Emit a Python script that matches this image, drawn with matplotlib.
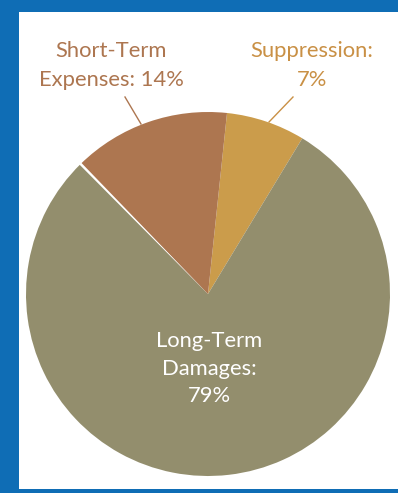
import matplotlib.pyplot as plt
import matplotlib.patches as mpatches
import numpy as np

# values
labels = ["Suppression:\n7%", "Long-Term\nDamages:\n79%", "Short-Term\nExpenses: 14%"]
shares = [7, 79, 14]
colors = ["#cb9c4b", "#938e6d", "#ad7650"]
label_colors = ["#c99045", "#ffffff", "#ad7650"]

W, H = 398, 493
fig = plt.figure(figsize=(W / 100, H / 100), dpi=100)
fig.patch.set_facecolor("#0f6db5")
plt.rcParams['font.family'] = ['Lato', 'DejaVu Sans']

ax = fig.add_axes([0, 0, 1, 1])
ax.patch.set_alpha(0)

# white panel inside the blue frame
ax.add_patch(mpatches.Rectangle((19, 4), W - 19, 489 - 12, facecolor="white",
                                edgecolor="none", zorder=0))

cx, cy, r = 208, H - 294, 182
start = 84
wedges, _ = ax.pie(shares, colors=colors, startangle=start, counterclock=False,
                   center=(cx, cy), radius=r, frame=True,
                   wedgeprops=dict(linewidth=0, zorder=1))
ax.set_xlim(0, W)
ax.set_ylim(0, H)
ax.set_aspect("equal")
ax.axis("off")

# thin tapered white gap between long-term and short-term wedges
gap = start - 360 * (shares[0] + shares[1]) / 100 + 360
ax.add_patch(mpatches.Wedge((cx, cy), r + 1, gap - 0.4, gap + 0.4,
                            facecolor="white", edgecolor="none", zorder=2))

# outside labels with leader lines
ax.text(111, H - 41, labels[2], ha="center", va="top", fontsize=15.8,
        color=label_colors[2], linespacing=1.55)
ax.plot([125, 141], [H - 97, H - 124], color=label_colors[2], lw=1)
ax.text(312, H - 41, labels[0], ha="center", va="top", fontsize=15.8,
        color=label_colors[0], linespacing=1.55)
ax.plot([293, 269], [H - 97, H - 122], color=label_colors[0], lw=1)

# inside label
ax.text(209, H - 331, labels[1], ha="center", va="top", fontsize=15.8,
        color=label_colors[1], linespacing=1.48, zorder=3)

fig.savefig("out.png", dpi=100)
